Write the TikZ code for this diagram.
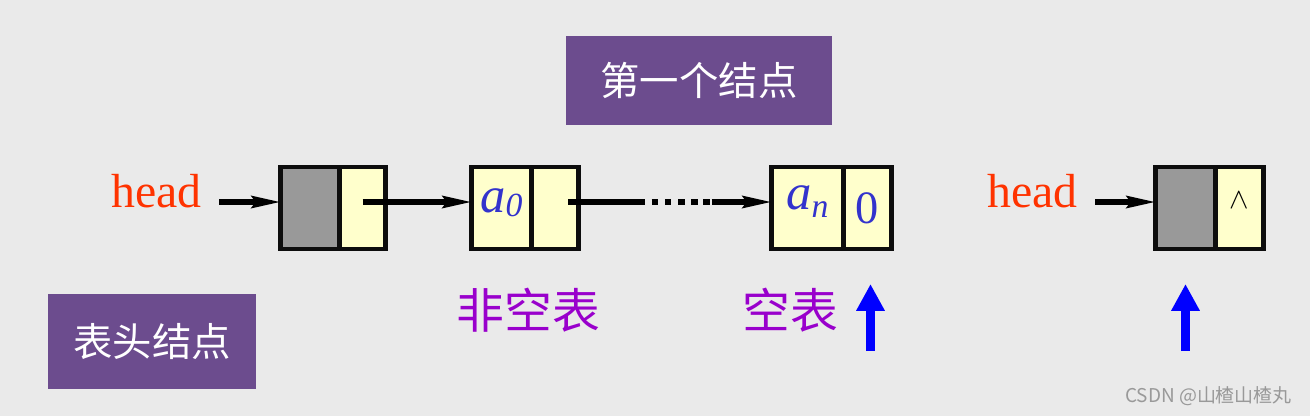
\documentclass[tikz,border=0pt]{standalone}
\usepackage{fontspec}
\setmainfont{Liberation Serif}
\newfontfamily\cjk{Noto Sans CJK SC}
\usetikzlibrary{arrows.meta, positioning}
\definecolor{bggray}{HTML}{EAEAEA}
\definecolor{tagpurple}{HTML}{6C4C8E}
\definecolor{headred}{HTML}{FF3300}
\definecolor{valblue}{HTML}{3333CC}
\definecolor{notepurple}{HTML}{9900CC}
\definecolor{cellgray}{HTML}{999999}
\definecolor{cellyellow}{HTML}{FFFFCC}
\definecolor{ptrblue}{HTML}{0000FF}
\tikzset{
    cell/.style={
        draw=black!95,
        line width=3.3pt,
        minimum height=2.05cm,
        inner sep=0pt,
        outer sep=0pt
    },
    headcell/.style={cell, fill=cellgray},
    datacell/.style={cell, fill=cellyellow, text=valblue},
    tagbox/.style={
        fill=tagpurple,
        text=white,
        inner sep=0pt,
        font=\cjk\fontsize{28pt}{30pt}\selectfont
    },
    headlabel/.style={
        text=headred,
        anchor=east,
        inner xsep=0.43cm,
        text depth=0.55cm,
        font=\fontsize{34pt}{36pt}\selectfont
    },
    note/.style={text=notepurple, font=\cjk\fontsize{34pt}{36pt}\selectfont},
    link/.style={-{Stealth[length=0.72cm, width=0.3cm, inset=0.1cm]}, line width=3.6pt},
    pointer/.style={-{Triangle[length=0.67cm, width=0.67cm]}, line width=6.4pt, ptrblue},
    wmtext/.style={text=black!40, font=\cjk\fontsize{13.5pt}{14pt}\selectfont}
}

\begin{document}
\begin{tikzpicture}[x=0.025cm, y=-0.025cm]
\path[use as bounding box, fill=bggray] (0,0) rectangle (1310,416);

\node[tagbox, minimum width=6.65cm, minimum height=2.225cm] (firsttag) at (699,80.5) {第一个结点};
\node[tagbox, minimum width=5.2cm, minimum height=2.375cm] (headtag) at (152,341.5) {表头结点};

% non-empty list
\node[headlabel] (head1) at (219,202) {head};
\node[headcell, minimum width=1.475cm] (n1L) at (310,208) {};
\node[datacell, minimum width=1.15cm, right=0pt of n1L] (n1R) {};

\node[datacell, minimum width=1.5cm, text height=0.6cm, text depth=0.4cm,
      font=\fontsize{36pt}{38pt}\selectfont\itshape] (n2L) at (501.5,208)
      {a\raisebox{-0.1cm}{\fontsize{24pt}{24pt}\selectfont 0}};
\node[datacell, minimum width=1.175cm, right=0pt of n2L] (n2R) {};

\node[datacell, minimum width=1.8cm, text height=0.5cm, text depth=0.45cm,
      font=\fontsize{36pt}{38pt}\selectfont\itshape] (n3L) at (807.5,208)
      {a\raisebox{-0.22cm}{\fontsize{24pt}{24pt}\selectfont n}};
\node[datacell, minimum width=1.2cm, right=0pt of n3L,
      font=\fontsize{33pt}{35pt}\selectfont] (n3R) {0};

\draw[link] (head1.east) -- (head1.east -| n1L.west);
\draw[link] ([yshift=0.15cm]n1R.center) -- ([yshift=0.15cm]n2L.west);
\draw[link, dash pattern=on 1.925cm off 0.165cm on 0.165cm off 0.165cm on 0.165cm
      off 0.165cm on 0.165cm off 0.165cm on 0.165cm off 0.13cm on 0.165cm off 0.05cm on 5cm]
      ([xshift=0.325cm, yshift=0.15cm]n2R.center) -- ([yshift=0.15cm]n3L.west);

% empty list
\node[headlabel] (head2) at (1095,202) {head};
\node[headcell, minimum width=1.5cm] (n4L) at (1185.5,208) {};
\node[datacell, minimum width=1.2cm, right=0pt of n4L, text=black,
      text height=0.4cm, text depth=0.4cm, font=\fontsize{20pt}{20pt}\selectfont] (n4R) {$\wedge$};
\draw[link] (head2.east) -- (head2.east -| n4L.west);

\node[note] (nonempty) at (528.5,310) {非空表};
\node[note] (empty) at (790.5,310) {空表};

\coordinate (p1) at (870.5,351);
\coordinate (p1top) at (870.5,284);
\coordinate (p2) at (1185.5,351);
\coordinate (p2top) at (1185.5,284);
\draw[pointer] (p1) -- (p1top);
\draw[pointer] (p2) -- (p2top);

\node[wmtext] (wm) at (1208.5,396) {CSDN @山楂山楂丸};
\end{tikzpicture}
\end{document}
